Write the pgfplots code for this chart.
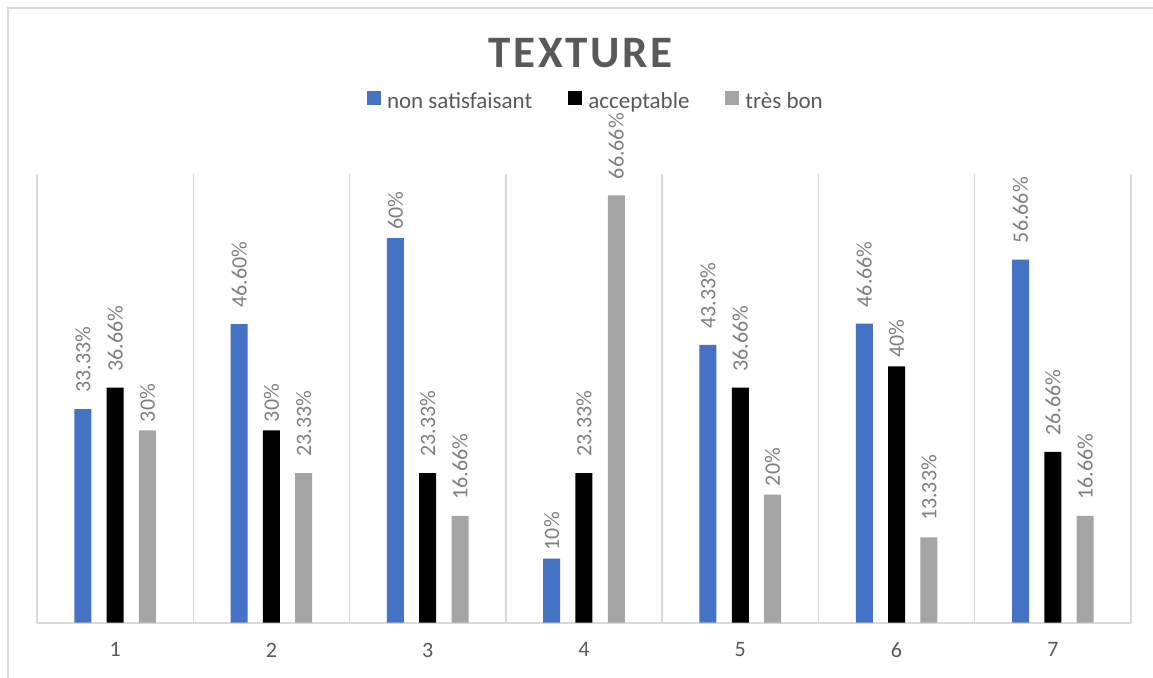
\documentclass[border=0pt]{standalone}
\usepackage{pgfplots}
\pgfplotsset{compat=1.18}
\usepackage{pgfplotstable}
\usepackage{fontspec}
\setmainfont{Carlito}
\newfontfamily\titlefont[LetterSpace=6]{Carlito}

\definecolor{sblue}{HTML}{4472C4}
\definecolor{sgray}{HTML}{A5A5A5}
\definecolor{txt}{HTML}{595959}
\definecolor{lbl}{HTML}{7F7F7F}
\definecolor{rule}{HTML}{D9D9D9}

% longer value labels sit a little higher above their bar
\newcommand\barlabel[1]{\setbox0=\hbox{#1\%}\ifdim\wd0>25pt\hspace{4pt}\fi\box0}

\pgfplotstableread{
cat ns    ac    tb    lns   lac   ltb
1   33.33 36.66 30    33.33 36.66 30
2   46.60 30    23.33 46.60 30    23.33
3   60    23.33 16.66 60    23.33 16.66
4   10    23.33 66.66 10    23.33 66.66
5   43.33 36.66 20    43.33 36.66 20
6   46.66 40    13.33 46.66 40    13.33
7   56.66 26.66 16.66 56.66 26.66 16.66
}\texturedata

\begin{document}
\begin{tikzpicture}
\useasboundingbox (0,0) rectangle (576.5pt,338.5pt);
\draw[rule, line width=0.75pt] (4pt,-10pt) -- (4pt,334.5pt) -- (590pt,334.5pt);
\begin{axis}[
  at={(18.5pt,27.15pt)}, anchor=south west,
  scale only axis, width=547pt, height=224.35pt,
  xmin=0.5, xmax=7.5, ymin=0, ymax=70,
  axis x line*=bottom, axis y line=none,
  axis line style={rule, line width=0.9pt},
  xtick={1,...,7}, xticklabels={1,2,3,4,5,6,7},
  major tick length=0pt,
  minor xtick={0.5,1.5,...,7.5}, minor tick length=0pt,
  xminorgrids, minor grid style={rule, line width=0.75pt},
  ytick=\empty,
  xticklabel style={font=\fontsize{11}{13}\selectfont, text=txt, yshift=-6.5pt},
  title={\titlefont\bfseries\fontsize{22.5}{27}\selectfont TEXTURE},
  title style={at={(rel axis cs:0.497,1.2378)}, anchor=base, yshift=0pt, text=txt, inner sep=0pt},
  every axis title shift=0pt,
  ybar=7.65pt, bar width=8.5pt,
  point meta=explicit symbolic,
  nodes near coords={\barlabel{\pgfplotspointmeta}},
  every node near coord/.append style={rotate=90, anchor=west, inner xsep=4pt, inner ysep=0pt,
    font=\fontsize{11}{13}\selectfont, text=lbl},
  legend columns=3,
  legend style={at={(rel axis cs:0.510,1.162)}, anchor=center, draw=none, fill=none,
    font=\fontsize{11.5}{13}\selectfont, text=txt,
    nodes={inner sep=0pt},
    /tikz/every odd column/.append style={column sep=3pt},
    /tikz/every even column/.append style={column sep=18pt}},
  legend image code/.code={\fill[#1] (0pt,-1.5pt) rectangle (7pt,5.5pt);},
]
\addplot[fill=sblue, draw=none] table[x=cat, y=ns, meta=lns] {\texturedata};
\addplot[fill=black, draw=none] table[x=cat, y=ac, meta=lac] {\texturedata};
\addplot[fill=sgray, draw=none] table[x=cat, y=tb, meta=ltb] {\texturedata};
\legend{non satisfaisant, acceptable, très bon}
\end{axis}
\end{tikzpicture}
\end{document}
